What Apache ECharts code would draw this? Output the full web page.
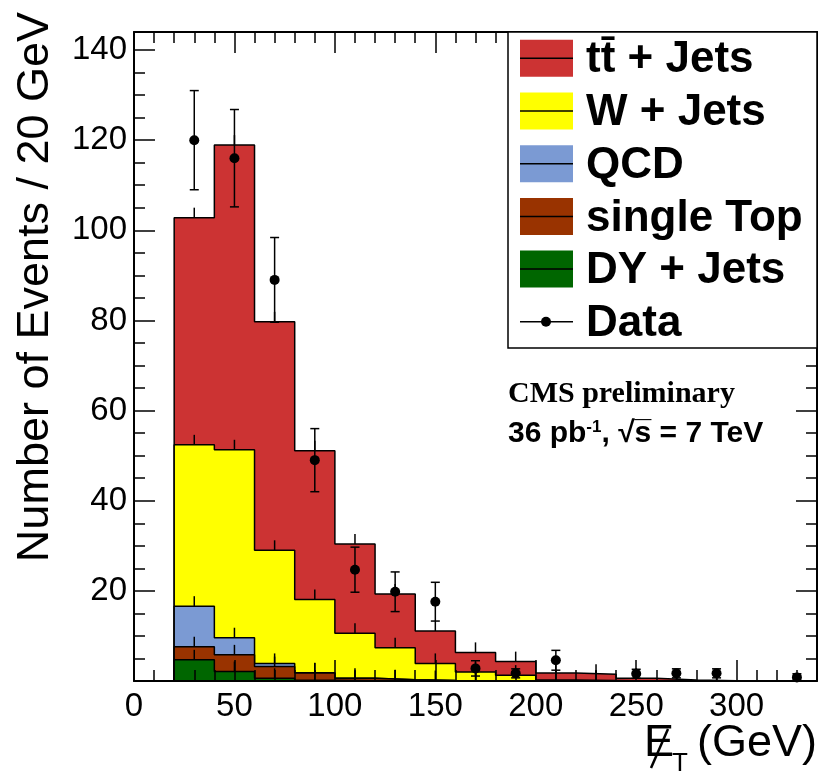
<!DOCTYPE html>
<html>
<head>
<meta charset="utf-8">
<script src="https://cdn.jsdelivr.net/npm/echarts@6/dist/echarts.min.js"></script>
<style>
  html, body { margin: 0; padding: 0; background: #fff; }
  #chart { width: 823px; height: 779px; }
</style>
</head>
<body>
<div id="chart"></div>
<script>
// MET histogram, 20 GeV bins from 20 to 340
const binEdges = [20, 40, 60, 80, 100, 120, 140, 160, 180, 200, 220, 240, 260, 280, 300, 320, 340]

// per-sample expected events in each bin (not stacked)
const ttJets = [50.4, 67.6, 50.7, 33.0, 19.8, 11.9, 7.2, 4.35, 3.0, 1.6, 1.4, 0.6, 0.2, 0.05, 0, 0]
const wJets = [35.8, 41.7, 25.1, 16.25, 10.0, 7.1, 3.8, 1.95, 1.3, 0.2, 0.1, 0, 0, 0, 0, 0]
const qcd = [9.0, 3.8, 0.7, 0.05, 0, 0, 0, 0, 0, 0, 0, 0, 0, 0, 0, 0]
const singleTop = [2.9, 3.7, 2.6, 1.65, 0.55, 0.3, 0.1, 0.05, 0, 0, 0, 0, 0, 0, 0, 0]
const dyJets = [4.7, 2.1, 0.6, 0.15, 0.05, 0, 0, 0, 0, 0, 0, 0, 0, 0, 0, 0]

// observed data
const dataX = [30, 50, 70, 90, 110, 130, 150, 170, 190, 210, 250, 270, 290, 330]
const dataY = [120, 116, 89, 49, 24.7, 19.8, 17.6, 2.8, 1.7, 4.6, 1.6, 1.7, 1.7, 0.8]
const dataErr = [11, 10.8, 9.4, 7, 5, 4.4, 4.3, 1.7, 1.0, 2.2, 1.0, 1.0, 1.0, 0.8]

const legendNames = ['tt\u0304 + Jets', 'W + Jets', 'QCD', 'single Top', 'DY + Jets', 'Data']
const colors = ['#cc3333', '#ffff00', '#7b9ad3', '#993300', '#006600']

const FONT = '"Liberation Sans", Arial, Helvetica, sans-serif'

// THStack style: every layer is drawn from zero with the running sum,
// bottom sample last so it ends up on top
const samples = [dyJets, singleTop, qcd, wJets, ttJets]
let running = binEdges.slice(1).map(function () { return 0 })
let stacked = samples.map(function (vals) {
  running = running.map(function (r, i) { return r + vals[i] })
  return running.slice()
})

// histogram as a step line, closed at both ends
function stepData (vals) {
  let d = [[binEdges[0], 0]]
  vals.forEach(function (v, i) { d.push([binEdges[i], v]) })
  d.push([binEdges[binEdges.length - 1], 0])
  return d
}

function histSeries (name, vals, color, z) {
  return {
    name: name,
    type: 'line',
    step: 'end',
    data: stepData(vals),
    showSymbol: false,
    symbol: 'none',
    lineStyle: { color: '#000', width: 1.5 },
    areaStyle: { color: color, opacity: 1 },
    itemStyle: { color: color },
    z: z,
    animation: false
  }
}

function xAx (pos, interval, len, labels, line) {
  return {
    type: 'value', position: pos, min: 0, max: 340, interval: interval, z: 10,
    axisLine: { show: line, onZero: false, lineStyle: { color: '#000', width: 2 } },
    axisTick: { show: true, inside: true, length: len, lineStyle: { color: '#000', width: 1.5 } },
    axisLabel: { show: labels, showMaxLabel: false, margin: 9, color: '#000', fontSize: 33, fontFamily: FONT },
    splitLine: { show: false }
  }
}

function yAx (pos, interval, len, labels, line) {
  return {
    type: 'value', position: pos, min: 0, max: 144, interval: interval, z: 10,
    axisLine: { show: line, onZero: false, lineStyle: { color: '#000', width: 2 } },
    axisTick: { show: true, inside: true, length: len, lineStyle: { color: '#000', width: 1.5 } },
    axisLabel: { show: labels, showMinLabel: false, showMaxLabel: false, margin: 7, color: '#000', fontSize: 33, fontFamily: FONT },
    splitLine: { show: false }
  }
}

// legend drawn by hand: filled box with a black line through it, like ROOT
let legendItems = [{
  type: 'rect', z: 100, shape: { x: 508, y: 32, width: 309, height: 316 },
  style: { fill: '#fff', stroke: '#000', lineWidth: 1.5 }
}]
legendNames.forEach(function (name, i) {
  const cy = 58.3 + i * 52.7
  if (i < 5) {
    legendItems.push({ type: 'rect', z: 101, shape: { x: 520, y: cy - 18.5, width: 53, height: 37 }, style: { fill: colors[i] } })
  } else {
    legendItems.push({ type: 'circle', z: 102, shape: { cx: 546, cy: cy, r: 5 }, style: { fill: '#000' } })
  }
  legendItems.push({ type: 'line', z: 101, shape: { x1: 520, y1: cy, x2: 573, y2: cy }, style: { stroke: '#000', lineWidth: 1.5 } })
  legendItems.push({
    type: 'text', z: 101,
    style: { text: name, x: 586, y: cy + 2, verticalAlign: 'middle', fill: '#000', font: 'bold 44px ' + FONT }
  })
})

let series = samples.map(function (s, k) {
  const li = 4 - k
  return histSeries(legendNames[li], stacked[k], colors[li], 2 - k * 0.1)
}).reverse()

// small error ticks at the bin centres of every filled layer
let mcTicks = []
samples.forEach(function (vals, k) {
  vals.forEach(function (v, i) {
    if (v > 0) mcTicks.push([(binEdges[i] + binEdges[i + 1]) / 2, stacked[k][i]])
  })
})
series.push({
  name: 'mc ticks',
  type: 'custom',
  data: mcTicks,
  encode: { x: 0, y: 1 },
  z: 4,
  renderItem: function (params, api) {
    const p = api.coord([api.value(0), api.value(1)])
    return { type: 'line', shape: { x1: p[0], y1: p[1], x2: p[0], y2: p[1] - 10 }, style: { stroke: '#000', lineWidth: 1.5 } }
  }
})

series.push({
  name: 'errors',
  type: 'custom',
  data: dataX.map(function (x, i) { return [x, Math.max(dataY[i] - dataErr[i], 0), dataY[i] + dataErr[i]] }),
  encode: { x: 0, y: [1, 2] },
  z: 5,
  renderItem: function (params, api) {
    const lo = api.coord([api.value(0), api.value(1)])
    const hi = api.coord([api.value(0), api.value(2)])
    const st = { stroke: '#000', lineWidth: 1.5 }
    return {
      type: 'group',
      children: [
        { type: 'line', shape: { x1: lo[0], y1: lo[1], x2: hi[0], y2: hi[1] }, style: st },
        { type: 'line', shape: { x1: lo[0] - 4.5, y1: lo[1], x2: lo[0] + 4.5, y2: lo[1] }, style: st },
        { type: 'line', shape: { x1: hi[0] - 4.5, y1: hi[1], x2: hi[0] + 4.5, y2: hi[1] }, style: st }
      ]
    }
  }
})
series.push({
  name: legendNames[5],
  type: 'scatter',
  data: dataX.map(function (x, i) { return [x, dataY[i]] }),
  symbol: 'circle',
  symbolSize: 10,
  itemStyle: { color: '#000', opacity: 1 },
  z: 6
})

const chart = echarts.init(document.getElementById('chart'))
chart.setOption({
  animation: false,
  backgroundColor: '#fff',
  grid: { left: 134, right: 6, top: 32, bottom: 98, containLabel: false, outerBoundsMode: 'none' },
  xAxis: [xAx('bottom', 50, 21, true, true), xAx('bottom', 10, 11, false, false), xAx('top', 50, 21, false, true), xAx('top', 10, 11, false, false)],
  yAxis: [yAx('left', 20, 21, true, true), yAx('left', 5, 11, false, false), yAx('right', 20, 21, false, true), yAx('right', 5, 11, false, false)],
  series: series,
  graphic: legendItems.concat([
    {
      type: 'text', z: 50,
      style: { text: 'CMS preliminary', x: 508, y: 394, verticalAlign: 'middle', fill: '#000', font: 'bold 30px "Liberation Serif", "Times New Roman", serif' }
    },
    {
      type: 'text', z: 50,
      style: {
        text: '36 pb{sup|-1}, \u221As\u0305 = 7 TeV', x: 508, y: 434, verticalAlign: 'middle', fill: '#000',
        font: 'bold 30px ' + FONT,
        rich: { sup: { fontSize: 17, fontWeight: 'bold', fontFamily: FONT, verticalAlign: 'top', fill: '#000' } }
      }
    },
    {
      type: 'text', z: 50, rotation: Math.PI / 2, x: 36, y: 287,
      style: { text: 'Number of Events / 20 GeV', x: 0, y: 0, align: 'center', verticalAlign: 'middle', fill: '#000', font: '45px ' + FONT }
    },
    // x title: missing transverse energy
    {
      type: 'text', z: 50,
      style: { text: 'E', x: 644, y: 744, verticalAlign: 'middle', fill: '#000', font: '45px ' + FONT }
    },
    {
      type: 'line', z: 50, shape: { x1: 668, y1: 729, x2: 651, y2: 768 }, style: { stroke: '#000', lineWidth: 2.5 }
    },
    {
      type: 'text', z: 50,
      style: { text: 'T', x: 672, y: 764, verticalAlign: 'middle', fill: '#000', font: '26px ' + FONT }
    },
    {
      type: 'text', z: 50,
      style: { text: '(GeV)', x: 697, y: 744, verticalAlign: 'middle', fill: '#000', font: '45px ' + FONT }
    }
  ])
})
</script>
</body>
</html>
